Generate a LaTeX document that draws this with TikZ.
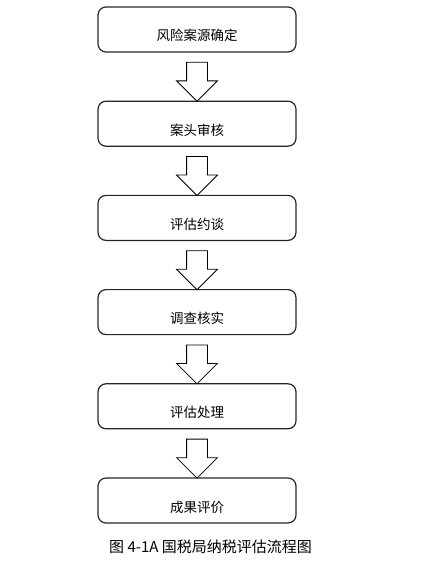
\documentclass[tikz,border=0pt]{standalone}
\usepackage{fontspec}
\setmainfont{Noto Sans CJK SC}
\usetikzlibrary{shapes.arrows,positioning,calc}
\tikzset{stage node/.style={rectangle,rounded corners=8pt,draw=black!85,line width=1.2pt,minimum width=198pt,minimum height=45pt,inner sep=0pt,text height=25pt,text depth=2pt,font=\fontsize{13.5pt}{13.5pt}\selectfont},
         down arrow/.style={single arrow,draw,line width=0.8pt,fill=white,rotate=-90,inner sep=0pt,inner ysep=10pt,single arrow head extend=10pt,single arrow head indent=0pt,minimum height=39pt},
         caption/.style={font=\fontsize{15pt}{15pt}\selectfont}
}

\begin{document}
\begin{tikzpicture}[x=1pt,y=1pt]

    \useasboundingbox (0,0) rectangle (425,-561);

    \node [stage node] (s1) at (197,-29.5) {风险案源确定};
    \node [stage node, below=48pt of s1] (s2) {案头审核};
    \node [stage node, below=48pt of s2] (s3) {评估约谈};
    \node [stage node, below=48pt of s3] (s4) {调查核实};
    \node [stage node, below=48pt of s4] (s5) {评估处理};
    \node [stage node, below=48pt of s5] (s6) {成果评价};

    \foreach \a/\b in {s1/s2,s2/s3,s3/s4,s4/s5,s5/s6}{
        \node [down arrow] (\a-\b) at ($(\a.south)!0.5!(\b.north)$) {};
    }

    \node [caption] (cap) at (210.5,-547) {图 4-1A 国税局纳税评估流程图};

\end{tikzpicture}
\end{document}
